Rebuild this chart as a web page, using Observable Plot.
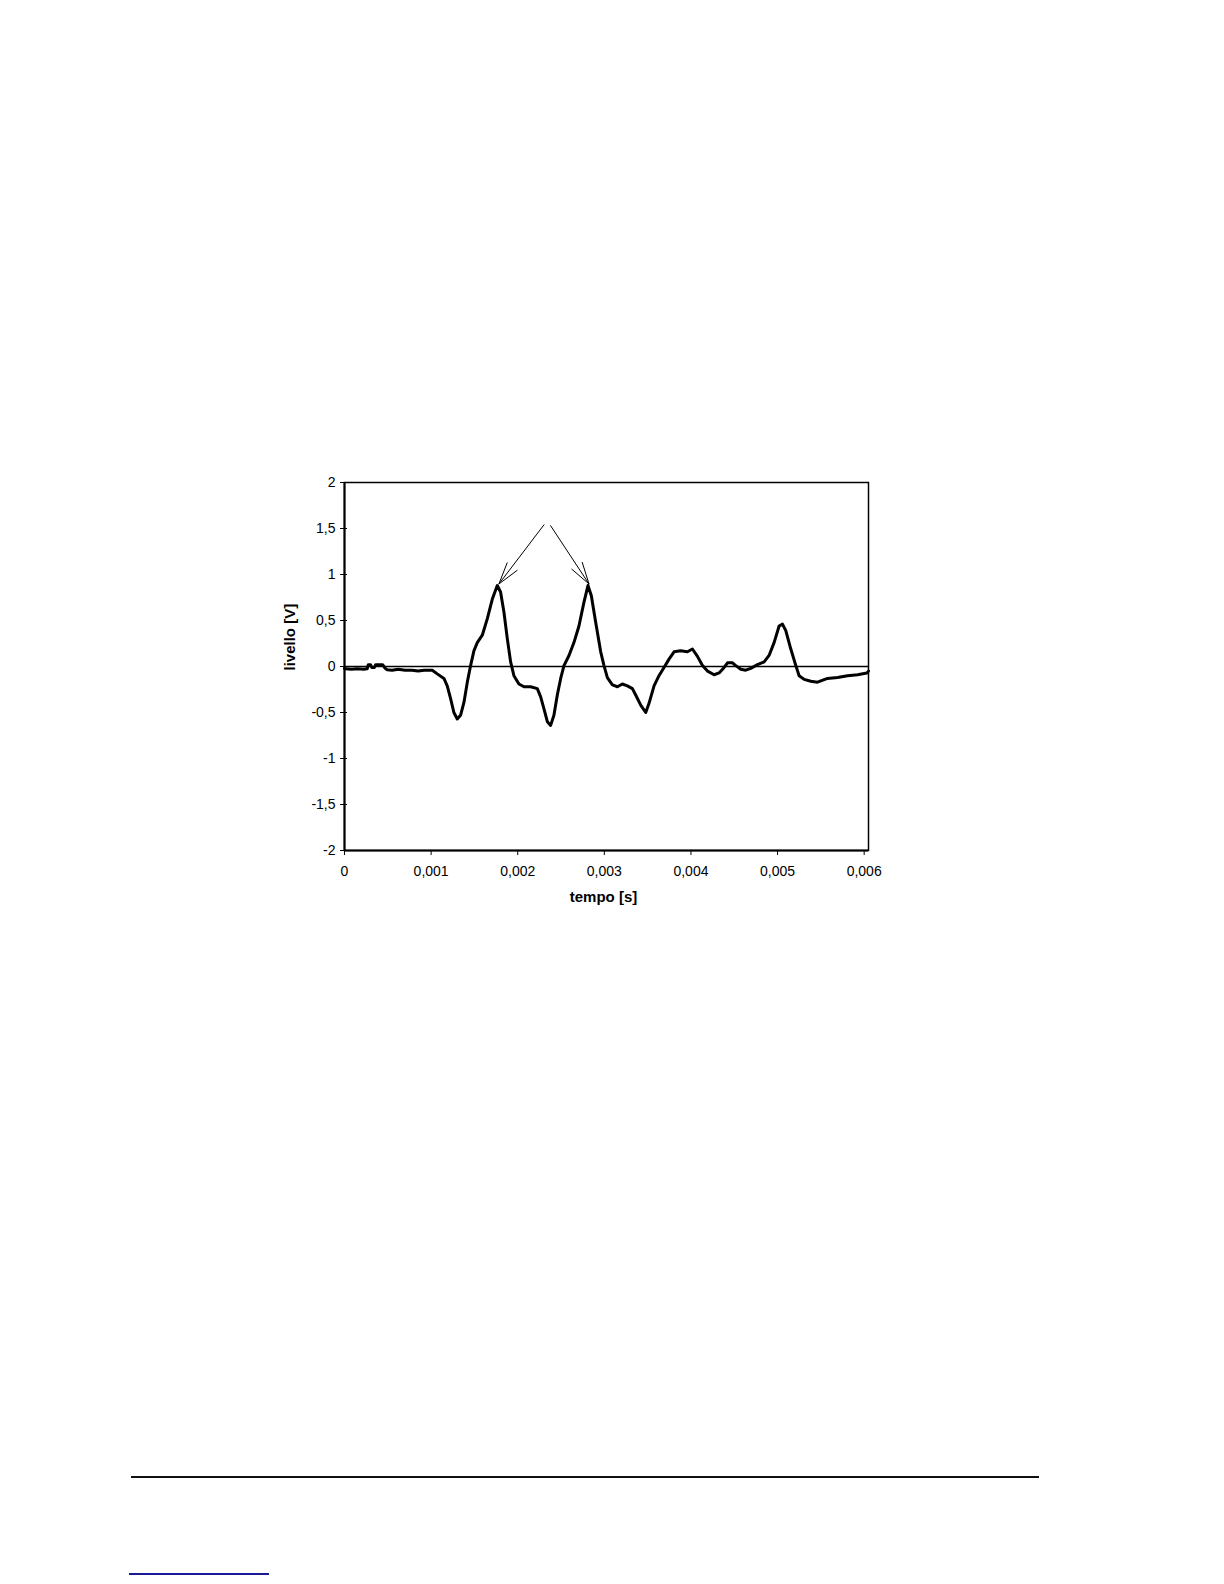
<!DOCTYPE html>
<html>
<head>
<meta charset="utf-8">
<script src="https://cdn.jsdelivr.net/npm/d3@7"></script>
<script src="https://cdn.jsdelivr.net/npm/@observablehq/plot@0.6"></script>
<style>
  html, body { margin: 0; padding: 0; background: #fff; }
  #page { position: relative; width: 1224px; height: 1584px; overflow: hidden; background: #fff; }
  #chart { position: absolute; left: 0; top: 0; }
  .rule { position: absolute; }
</style>
</head>
<body>
<div id="page">
  <div id="chart"></div>
  <div class="rule" style="left:131px; top:1476px; width:908px; height:1.5px; background:#111;"></div>
  <div class="rule" style="left:129px; top:1573px; width:140px; height:1.5px; background:#1a1a99;"></div>
</div>
<script>
// time [s]
const tempo = [
  0.000000, 0.000012, 0.000080, 0.000150, 0.000220, 0.000262, 0.000275, 0.000300, 0.000315, 0.000345,
  0.000360, 0.000385, 0.000420, 0.000440, 0.000470, 0.000493, 0.000550, 0.000620, 0.000700, 0.000780,
  0.000850, 0.000920, 0.000994, 0.001013, 0.001071, 0.001148, 0.001186, 0.001225, 0.001263, 0.001302,
  0.001340, 0.001379, 0.001418, 0.001456, 0.001494, 0.001533, 0.001591, 0.001649, 0.001706, 0.001764,
  0.001802, 0.001841, 0.001880, 0.001918, 0.001956, 0.002014, 0.002072, 0.002149, 0.002226, 0.002265,
  0.002303, 0.002342, 0.002380, 0.002418, 0.002457, 0.002496, 0.002534, 0.002592, 0.002649, 0.002707,
  0.002765, 0.002811, 0.002850, 0.002900, 0.002958, 0.002996, 0.003035, 0.003093, 0.003151, 0.003208,
  0.003266, 0.003324, 0.003362, 0.003420, 0.003478, 0.003516, 0.003574, 0.003631, 0.003689, 0.003747,
  0.003805, 0.003882, 0.003959, 0.004017, 0.004075, 0.004133, 0.004191, 0.004268, 0.004325, 0.004383,
  0.004422, 0.004480, 0.004518, 0.004575, 0.004633, 0.004691, 0.004768, 0.004845, 0.004902, 0.004960,
  0.005018, 0.005057, 0.005095, 0.005153, 0.005211, 0.005249, 0.005307, 0.005384, 0.005461, 0.005577,
  0.005693, 0.005808, 0.005924, 0.006032, 0.006050
];
// level [V]
const livello = [
  -0.02, -0.025, -0.03, -0.025, -0.03, -0.025, 0.02, 0.02, -0.01, -0.01,
  0.02, 0.02, 0.02, 0.02, -0.02, -0.035, -0.04, -0.03, -0.04, -0.04,
  -0.05, -0.04, -0.04, -0.04, -0.08, -0.13, -0.21, -0.35, -0.50, -0.57,
  -0.53, -0.39, -0.17, 0.01, 0.17, 0.26, 0.34, 0.52, 0.73, 0.88,
  0.81, 0.59, 0.30, 0.05, -0.10, -0.19, -0.22, -0.22, -0.24, -0.33,
  -0.46, -0.60, -0.64, -0.53, -0.31, -0.13, 0.01, 0.12, 0.26, 0.44,
  0.70, 0.88, 0.77, 0.48, 0.16, 0.01, -0.12, -0.20, -0.22, -0.19,
  -0.21, -0.24, -0.31, -0.42, -0.50, -0.40, -0.21, -0.10, -0.01, 0.08,
  0.16, 0.17, 0.16, 0.19, 0.11, 0.01, -0.05, -0.09, -0.07, -0.01,
  0.04, 0.04, 0.01, -0.03, -0.04, -0.02, 0.02, 0.05, 0.12, 0.26,
  0.44, 0.46, 0.39, 0.19, 0.01, -0.10, -0.14, -0.16, -0.17, -0.13,
  -0.12, -0.10, -0.09, -0.07, -0.05
];

const xTicks = [0, 0.001, 0.002, 0.003, 0.004, 0.005, 0.006];
const yTicks = [-2, -1.5, -1, -0.5, 0, 0.5, 1, 1.5, 2];
const xDomain = [0, 0.00605];
const yDomain = [-2, 2];
const xTitle = "tempo [s]";
const yTitle = "livello [V]";

// annotation arrows pointing at the two main peaks
const arrowX1 = [0.002303, 0.002380];
const arrowY1 = [1.54, 1.53];
const arrowX2 = [0.001783, 0.002823];
const arrowY2 = [0.897, 0.897];

const fmt = d => String(d).replace(".", ",");
const data = tempo.map((t, i) => ({t, v: livello[i]}));
const arrows = arrowX1.map((x1, i) => ({x1, y1: arrowY1[i], x2: arrowX2[i], y2: arrowY2[i]}));

const chart = Plot.plot({
  width: 1224,
  height: 930,
  marginLeft: 344,
  marginRight: 356,
  marginTop: 482,
  marginBottom: 80,
  style: {fontFamily: "'Liberation Sans', Arial, sans-serif", fontSize: "14px", color: "#000", background: "transparent"},
  x: {domain: xDomain},
  y: {domain: yDomain},
  marks: [
    Plot.ruleY([0], {stroke: "#000", strokeWidth: 1.5}),
    Plot.line(data, {x: "t", y: "v", stroke: "#000", strokeWidth: 3, strokeLinejoin: "round", strokeLinecap: "round"}),
    Plot.arrow(arrows, {x1: "x1", y1: "y1", x2: "x2", y2: "y2", stroke: "#000", strokeWidth: 1, headLength: 34, headAngle: 32, bend: 0}),
    Plot.frame({stroke: "#000", strokeWidth: 1.5}),
    Plot.ruleX([xDomain[0]], {stroke: "#000", strokeWidth: 2}),
    Plot.ruleY([yDomain[0]], {stroke: "#000", strokeWidth: 2}),
    Plot.tickY(yTicks, {y: d => d, insetRight: 521, stroke: "#000", strokeWidth: 1}),
    Plot.axisX({ticks: xTicks, tickFormat: fmt, tickSize: 5, tickPadding: 11, label: null}),
    Plot.axisY({ticks: yTicks, tickFormat: fmt, tickSize: 4, tickPadding: 5, label: null}),
    Plot.text([xTitle], {text: d => d, frameAnchor: "bottom", dy: 51, dx: -3, fontWeight: "bold", fontSize: 15}),
    Plot.text([yTitle], {text: d => d, frameAnchor: "left", dx: -54, dy: 4, rotate: -90, fontWeight: "bold", fontSize: 15})
  ]
});
document.getElementById("chart").appendChild(chart);
</script>
</body>
</html>
